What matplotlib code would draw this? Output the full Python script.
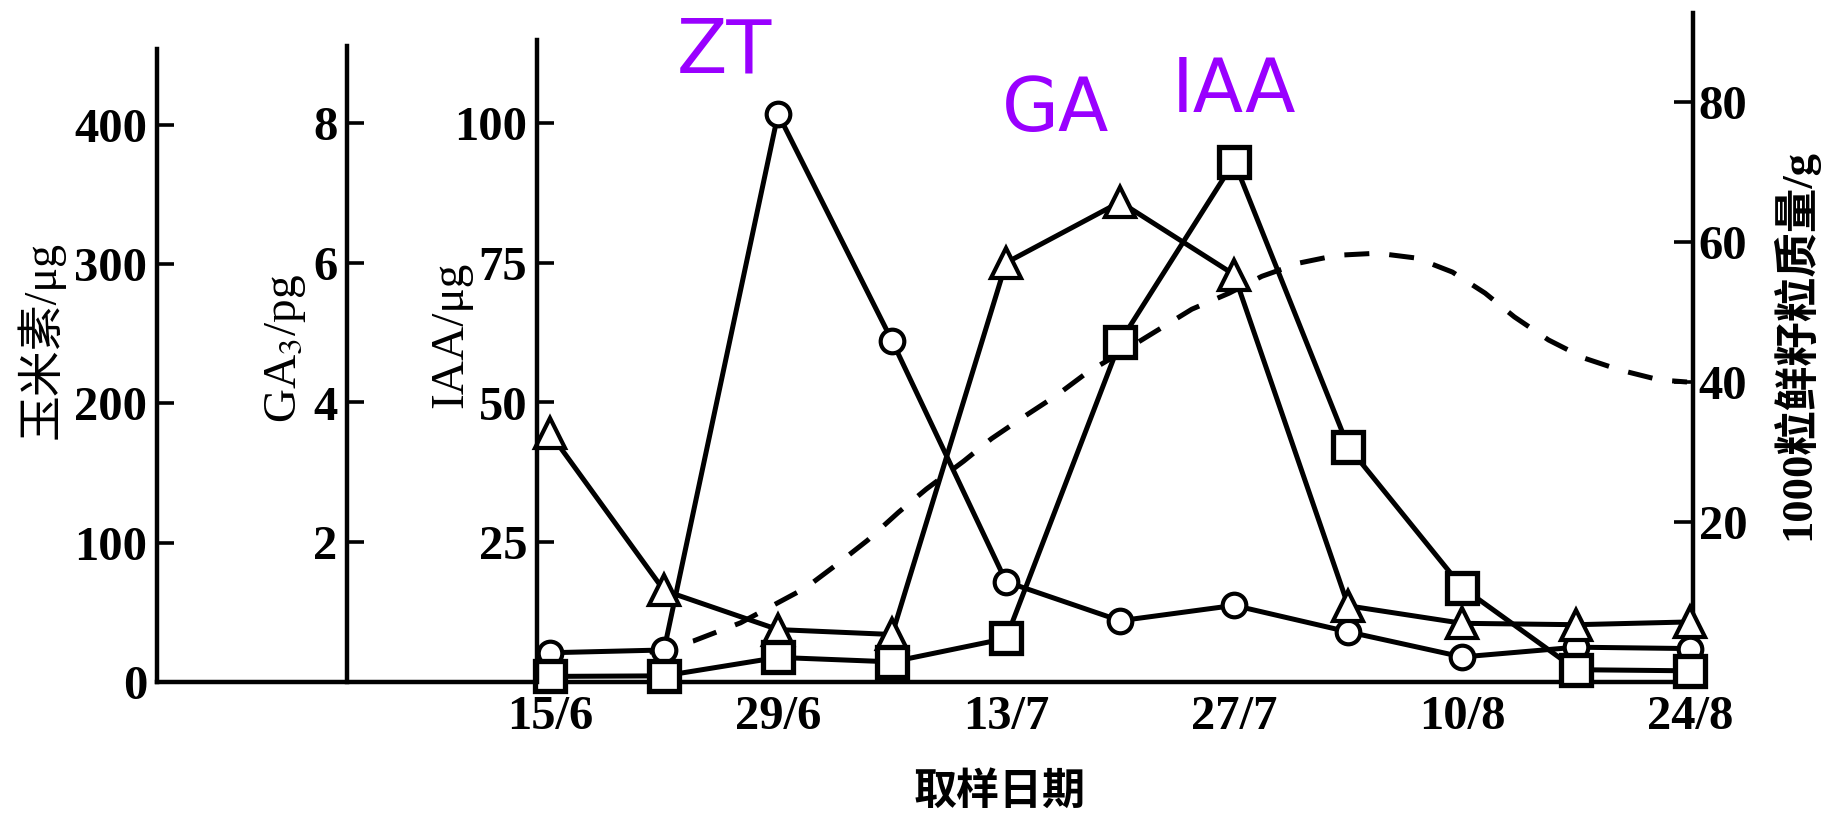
import matplotlib.pyplot as plt

plt.rcParams['font.family'] = ['Liberation Serif', 'Noto Sans CJK SC', 'DejaVu Sans']
plt.rcParams['mathtext.fontset'] = 'stix'

# sampling dates, days after 15/6 (one per week)
days = [0, 7, 14, 21, 28, 35, 42, 49, 56, 63, 70]
zt = [21, 23, 408, 245, 72, 44, 55, 36, 18, 25, 24]                       # 玉米素 / μg
ga = [3.56, 1.31, 0.75, 0.68, 6.0, 6.87, 5.83, 1.09, 0.84, 0.82, 0.86]    # GA3 / pg
iaa = [1.0, 1.1, 4.4, 3.6, 7.8, 60.9, 93.1, 42.1, 16.9, 2.2, 2.0]         # IAA / μg

# 1000-grain fresh weight (g)
wt_days = [6.1, 8.8, 11.7, 13.7, 15.7, 17.7, 19.5, 21.4, 23.1, 25.4, 27.1, 29.0, 31.1,
           33.0, 35.2, 39.4, 41.7, 43.7, 46.0, 48.3, 50.8, 53.2, 55.4, 57.4, 59.2,
           61.3, 63.5, 65.7, 68.1, 69.8]
wt = [1.4, 3.0, 5.6, 8.1, 10.6, 14.1, 17.4, 21.4, 24.7, 28.7, 31.9, 34.9, 38.1,
      41.4, 44.4, 50.4, 52.7, 55.1, 57.0, 58.1, 58.4, 57.7, 55.7, 52.7, 49.3,
      46.0, 43.4, 41.7, 40.3, 40.0]

tick_days = [0, 14, 28, 42, 56, 70]
tick_labels = ['15/6', '29/6', '13/7', '27/7', '10/8', '24/8']

W, H = 1825, 813
fig = plt.figure(figsize=(W / 100, H / 100), dpi=100)

base = 682        # baseline, px from top
right_px = 1693   # right spine
x0_px = 550       # 15/6
px_per_day = 16.29
tick_fs = 35


def day_at(px):
    return (px - x0_px) / px_per_day


def bold_ticks(labels):
    for t in labels:
        t.set_fontweight('bold')


def add_axis(left_px, top_px, bottom_px=base):
    ax = fig.add_axes([left_px / W, (H - bottom_px) / H,
                       (right_px - left_px) / W, (bottom_px - top_px) / H])
    ax.patch.set_visible(False)
    ax.set_xlim(day_at(left_px), day_at(right_px))
    for s in ('top', 'right', 'bottom'):
        ax.spines[s].set_visible(False)
    ax.spines['left'].set_linewidth(3.2)
    ax.set_xticks([])
    ax.tick_params(axis='y', direction='in', length=12.5, width=2.6,
                   labelsize=tick_fs, pad=7)
    return ax


line_kw = dict(color='black', lw=3.6, mfc='white', mec='black', clip_on=False)

# right axis: grain weight
axr = add_axis(157, 13)
axr.spines['left'].set_visible(False)
axr.spines['right'].set_visible(True)
axr.spines['right'].set_linewidth(3.2)
axr.set_ylim(-(base - 662) / 7.0, (662 - 13) / 7.0)
axr.yaxis.tick_right()
axr.set_yticks([20, 40, 60, 80])
axr.tick_params(axis='y', direction='in', length=14, width=2.6, labelsize=tick_fs, pad=4)
bold_ticks(axr.get_yticklabels())
axr.plot(wt_days, wt, color='black', lw=3.6, linestyle=(0, (5, 4)), clip_on=False)

# zeatin axis (carries the baseline and the dates)
ax1 = add_axis(157, 49)
ax1.spines['bottom'].set_visible(True)
ax1.spines['bottom'].set_linewidth(3.2)
ax1.set_ylim(0, (base - 49) / 1.3925)
ax1.set_yticks([0, 100, 200, 300, 400])
bold_ticks(ax1.get_yticklabels())
ax1.set_xticks(tick_days, tick_labels)
ax1.tick_params(axis='x', length=0, pad=9, labelsize=tick_fs)
bold_ticks(ax1.get_xticklabels())
ax1.plot(days, zt, marker='o', ms=17, mew=3, **line_kw)

# GA3 axis
ax2 = add_axis(347, 46)
ax2.set_ylim(0, (base - 46) / 69.875)
ax2.set_yticks([2, 4, 6, 8])
bold_ticks(ax2.get_yticklabels())
ax2.plot(days, ga, marker='^', ms=22, mew=3, **line_kw)

# IAA axis
ax3 = add_axis(537, 40)
ax3.set_ylim(0, (base - 40) / 5.59)
ax3.set_yticks([25, 50, 75, 100])
bold_ticks(ax3.get_yticklabels())
ax3.plot(days, iaa, marker='s', ms=21, mew=3.8, **line_kw)

# axis titles
fig.text(40 / W, 1 - 340 / H, '玉米素/μg', rotation=90, ha='center', va='center', fontsize=33)
fig.text(285 / W, 1 - 348 / H, 'GA$_3$/pg', rotation=90, ha='center', va='center', fontsize=34)
fig.text(451 / W, 1 - 335 / H, 'IAA/μg', rotation=90, ha='center', va='center', fontsize=34)
fig.text(1795 / W, 1 - 345 / H, '1000粒鲜籽粒质量/g', rotation=90, ha='center', va='center',
         fontsize=32, fontweight='bold')
fig.text(1000 / W, 1 - 792 / H, '取样日期', ha='center', va='center', fontsize=31,
         fontweight='bold')

# series names
purple = '#9900ff'
fig.text(724 / W, 1 - 52 / H, 'ZT', color=purple, family='DejaVu Sans', fontsize=53,
         ha='center', va='center')
fig.text(1056 / W, 1 - 110 / H, 'GA', color=purple, family='DejaVu Sans', fontsize=53,
         ha='center', va='center')
fig.text(1234 / W, 1 - 92 / H, 'IAA', color=purple, family='DejaVu Sans', fontsize=53,
         ha='center', va='center')

fig.savefig('out.png', dpi=100)
